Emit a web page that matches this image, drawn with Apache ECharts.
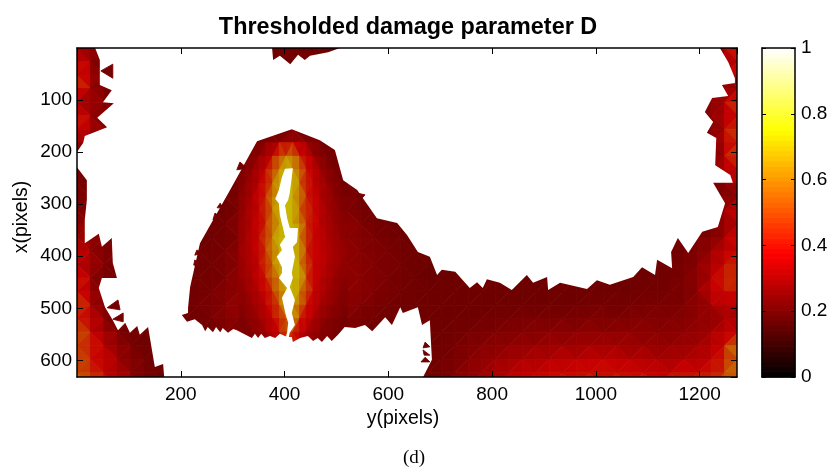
<!DOCTYPE html>
<html><head><meta charset="utf-8">
<style>html,body{margin:0;padding:0;background:#fff}#c{width:832px;height:471px}</style>
<script src="https://cdn.jsdelivr.net/npm/echarts@6/dist/echarts.min.js"></script>
</head><body><div id="c"></div>
<script>
// Sampled damage values (hundredths) as [startColumn, v, v, ...] runs; blank nodes are below threshold.
const nodeStep = 26;
const row00=[[0,36,26],[14,21,22,22,22,21],[48,26,45]];
const row01=[[0,36,28,22],[15,21],[17,21],[48,26,50]];
const row02=[[0,52,30,22],[48,25,40]];
const row03=[[0,46,32,24,22],[48,26,32]];
const row04=[[0,32,30,24],[47,26,34,50]];
const row05=[[0,44,30,25],[47,24,30,46]];
const row06=[[0,46,34,23],[16,22],[47,22,36,42]];
const row07=[[0,30,22],[14,22,26,32,26,22],[47,25,30,58]];
const row08=[[0,22],[13,22,25,38,48,38,27,22],[47,24,30,48]];
const row09=[[0,22,22],[13,22,29,52,72,55,36,24],[48,30,50]];
const row10=[[0,24,22],[12,22,25,36,60,72,50,36,28,22],[48,24,30]];
const row11=[[0,24,22],[11,21,23,27,40,62,72,52,38,30,25,21],[48,24,28]];
const row12=[[0,26,22],[11,21,24,30,38,62,68,50,38,30,25,22,21],[48,30,40]];
const row13=[[0,28,24],[10,21,22,25,30,36,48,62,58,38,30,27,24,22,21,20],[47,22,28,36]];
const row14=[[0,32,28,22],[10,21,22,24,28,34,50,65,52,36,30,27,25,23,22,21],[46,22,24,30,42]];
const row15=[[0,36,30,24],[9,21,22,23,25,30,38,60,65,42,33,29,27,25,24,23,22,21],[45,22,24,30,34,42]];
const row16=[[0,40,30,24],[9,21,22,23,27,32,42,68,60,40,33,29,27,26,24,23,22,21,20],[42,21,21,21,23,25,30,40,42]];
const row17=[[0,42,28,23,21],[9,21,22,23,27,33,46,68,62,42,35,30,27,26,24,23,22,21,20,20],[31,20],[33,20],[35,20],[39,20],[41,21,21,21,22,24,26,35,42,50]];
const row18=[[0,50,30,22],[8,21,22,23,25,28,35,48,66,68,44,35,30,27,26,24,23,22,21,21,21,21,21,21,21,21,21,21,21,21,21,21,21,21,21,22,22,22,23,26,36,42,38]];
const row19=[[0,48,34,24],[9,22,23,25,28,36,46,66,66,40,33,29,26,24,23,22,21,21,21,21,21,21,21,21,21,21,21,21,21,21,22,22,22,22,22,23,23,24,27,30,36,33]];
const row20=[[0,48,36,26,21],[8,21,22,23,25,29,35,46,62,60,38,31,27,25,23,22,21],[26,21,21,21,21,21,22,22,23,23,23,23,23,24,24,23,24,25,24,24,25,26,27,30,32]];
const row21=[[0,52,40,30,24,22,21],[9,21],[11,22],[13,26,36,62,60,36],[19,23],[21,21],[26,21,21,22,22,23,24,24,25,25,26,26,26,27,26,27,27,26,26,26,27,28,30,36,40]];
const row22=[[0,56,42,36,27,23,21],[26,21,21,22,24,25,26,27,28,28,29,30,29,31,30,31,29,29,28,28,29,30,34,40,60]];
const row23=[[0,50,40,38,30,25,22,21],[26,21,22,23,25,27,29,30,32,33,33,35,34,35,36,35,33,34,31,31,33,34,36,42,66]];
const row24=[[0,58,46,38,32,26,23,21],[26,21,22,24,27,29,31,34,36,37,38,40,38,42,38,42,38,40,36,38,40,38,42,46,55]];
const row25=[[0,60,50,42,34,27,23,21,20],[26,21,23,25,28,31,33,36,38,39,40,42,40,44,40,45,40,44,38,42,44,42,46,55,60]];
const nodeRows=[row00,row01,row02,row03,row04,row05,row06,row07,row08,row09,row10,row11,row12,row13,row14,row15,row16,row17,row18,row19,row20,row21,row22,row23,row24,row25];

// Finer samples across the crack: columns every 13 from y=312, rows every 26 from x=182.
const fineColStart=312, fineColStep=13, fineRowStart=182, fineRowStep=26;
const fine07=[22,22,22,23,25,28,32,35,35,32,28,25,22,22,22,22,22];
const fine08=[22,23,24,27,31,38,50,60,60,45,38,30,26,23,22,22,22];
const fine09=[23,25,28,32,39,50,65,72,72,58,43,36,30,26,23,22,22];
const fine10=[24,27,30,35,41,55,70,72,72,58,42,37,33,29,26,23,22];
const fine11=[25,28,32,38,45,60,70,72,72,62,45,37,34,30,27,24,22];
const fine12=[26,30,33,38,44,62,70,72,72,56,46,40,35,31,28,26,24];
const fine13=[27,30,34,38,44,56,68,72,72,64,46,40,36,32,29,27,25];
const fine14=[28,31,35,39,50,62,72,72,72,68,48,38,36,33,30,28,26];
const fine15=[28,32,34,38,48,60,72,72,72,66,46,38,37,34,31,29,27];
const fine16=[28,31,33,37,46,58,72,72,72,68,50,38,37,34,31,29,27];
const fine17=[27,30,33,37,44,56,64,70,72,72,52,38,35,32,29,27,25];
const fine18=[26,28,31,34,38,46,60,72,72,64,52,38,35,31,28,26,24];
const fine19=[25,27,29,32,36,42,52,68,72,58,42,36,32,29,27,25,23];
const fine20=[24,25,27,30,33,38,44,58,72,46,38,33,29,26,24,23,22];
const fine21=[23,24,25,27,30,34,38,52,50,35,33,28,26,24,23,22,22];
const fine22=[23,23,24,25,27,30,34,42,42,33,30,27,25,24,23,22,22];
const fineRows=[fine07,fine08,fine09,fine10,fine11,fine12,fine13,fine14,fine15,fine16,fine17,fine18,fine19,fine20,fine21,fine22];

// Detached elements: y1,x1,y2,x2,y3,x3 and their D value.
const detached=[
 [46,44,69,31,69,58,22],[58,499,79,484,83,503,22],[69,521,89,509,89,526,22],
 [314,219,328,231,308,234,22],[276,298,281,307,270,307,22],[266,317,276,325,262,330,22],
 [256,344,266,355,252,355,22],[231,388,241,394,227,398,22],[227,407,241,421,225,417,22],
 [541,279,555,282,541,298,22],
 [671,565,680,574,667,576,21],[667,580,680,590,669,590,21],[671,594,680,603,663,603,21]
];
// Crack outline (removed elements)
const crackY=[401,395,389,382,389,391,397,401,391,395,385,395,395,389,405,395,401,407,405,401,407,410,420,414,420,410,416,414,416,420,416,424,426,410,405,401,407,410,414,416];
const crackX=[232,248,273,290,298,321,346,363,378,388,401,421,432,442,461,480,507,528,546,561,561,547,532,509,484,459,442,432,421,401,382,373,346,346,327,302,292,279,248,231];
// Outline of the area thresholded away
const blankY=[35,44,44,67,50,71,39,58,15,12,0,0,19,19,15,15,42,48,67,69,77,48,42,54,69,79,93,102,116,121,137,150,166,168,667,684,680,665,657,628,623,607,594,569,555,536,516,503,491,482,472,464,455,445,430,416,414,405,391,382,372,362,355,349,343,337,308,301,291,281,276,268,262,252,247,241,227,212,202,214,214,218,237,295,347,414,468,497,513,540,578,617,636,657,680,694,703,729,757,771,782,790,815,838,867,879,906,908,931,983,1002,1027,1072,1089,1114,1118,1147,1145,1158,1178,1205,1235,1249,1226,1264,1259,1230,1232,1214,1226,1210,1224,1255,1243,1268,1268,1255,1239,507,484,449,439,426,411,391,378,376];
const blankX=[0,23,71,81,104,106,134,152,169,182,200,229,254,292,330,375,357,382,365,413,442,442,461,498,523,542,528,547,534,551,536,613,607,632,632,599,523,532,498,509,498,532,517,544,532,538,536,551,563,553,565,557,563,553,557,565,555,555,549,557,553,557,549,557,549,557,542,540,547,538,546,536,546,536,544,532,521,526,513,509,499,459,375,273,179,156,177,196,254,273,327,336,359,392,401,436,426,430,461,450,461,444,451,465,436,451,440,465,451,463,446,455,440,421,436,407,423,392,365,394,353,344,298,259,259,244,225,173,163,142,123,96,92,71,67,58,27,0,0,8,15,23,13,31,15,23,0];

const imageWidth=1272, imageHeight=632;
const colorLevels=64, meshShade=0.78;

function hotRGB(q,shade){
  const r=Math.min(1,q/0.375), g=Math.max(0,Math.min(1,(q-0.375)/0.375)), b=Math.max(0,(q-0.75)/0.25);
  return 'rgb('+[r,g,b].map(c=>Math.round(c*shade*255)).join(',')+')';
}
const grid=nodeRows.map(spans=>{const m={};spans.forEach(s=>s.slice(1).forEach((v,k)=>{m[s[0]+k]=v;}));return m;});
// Nodes just outside the kept area carry their neighbour's value so faces reach the outline.
for(let pass=0;pass<2;pass++){
  const snapshot=grid.map(m=>Object.assign({},m));
  for(let j=0;j<grid.length;j++)for(let i=0;i<50;i++){
    if(snapshot[j][i]!=null)continue;
    for(const [di,dj] of [[-1,0],[1,0],[0,-1],[0,1],[-1,-1],[1,-1],[-1,1],[1,1]]){
      const r=snapshot[j+dj];
      if(r&&r[i+di]!=null){grid[j][i]=r[i+di];break;}
    }
  }
}
function meshTriangles(rows,valueAt,yAt,xAt,nCols){
  const out=[];
  const add=(a,b,c)=>{
    const va=valueAt(a),vb=valueAt(b),vc=valueAt(c);
    if(va==null||vb==null||vc==null)return;
    out.push([yAt(a[0]),xAt(a[1]),yAt(b[0]),xAt(b[1]),yAt(c[0]),xAt(c[1]),(va+vb+vc)/300]);
  };
  for(let j=0;j<rows-1;j++)for(let i=0;i<nCols-1;i++){
    const a=[i,j],b=[i+1,j],c=[i,j+1],d=[i+1,j+1];
    if((i+j)%2===0){add(a,b,d);add(a,d,c);}else{add(a,b,c);add(b,d,c);}
  }
  return out;
}
const tris=meshTriangles(nodeRows.length,n=>grid[n[1]][n[0]],i=>i*nodeStep,j=>j*nodeStep,50);
const fineTris=meshTriangles(fineRows.length,n=>fineRows[n[1]][n[0]],i=>fineColStart+i*fineColStep,j=>fineRowStart+j*fineRowStep,fine07.length);
const looseTris=detached.map(t=>[t[0],t[1],t[2],t[3],t[4],t[5],t[6]/100]);
const barCells=[];for(let k=0;k<colorLevels;k++)barCells.push([k/colorLevels,(k+1)/colorLevels]);

const font='"Liberation Sans"';
const lineS={show:true,onZero:false,lineStyle:{color:'#000',width:1.5}};
const tickS={show:true,inside:true,length:6,lineStyle:{color:'#000',width:1}};
const labelS={color:'#000',fontFamily:font,fontSize:19};
const nameS={color:'#000',fontFamily:font,fontSize:19.5};
const triangleSeries=(data,z)=>({type:'custom',xAxisIndex:0,yAxisIndex:0,clip:true,silent:true,z:z,data:data,dimensions:['a','b','c','d','e','f','v'],encode:{x:[0,2,4],y:[1,3,5]},
  renderItem(p,api){
    const pts=[0,2,4].map(k=>api.coord([api.value(k),api.value(k+1)]));
    const col=hotRGB(api.value(6),meshShade);
    return {type:'polygon',shape:{points:pts},style:{fill:col,stroke:col,lineWidth:0.9}};
  }});
const outlineSeries=(ys,xs,z)=>({type:'custom',xAxisIndex:0,yAxisIndex:0,clip:true,silent:true,z:z,data:ys.map((y,k)=>[y,xs[k]]),encode:{x:0,y:1},
  renderItem(p,api){
    if(p.dataIndex!==0)return null;
    return {type:'polygon',shape:{points:ys.map((y,k)=>api.coord([y,xs[k]]))},style:{fill:'#fff'}};
  }});
const chart=echarts.init(document.getElementById('c'),null,{renderer:'canvas'});
chart.setOption({
  animation:false,backgroundColor:'#fff',
  title:[
    {text:'Thresholded damage parameter D',left:403,top:11,textAlign:'center',textStyle:{color:'#000',fontFamily:font,fontSize:23.4,fontWeight:'bold'}},
    {text:'(d)',left:409,top:444,textAlign:'center',textStyle:{color:'#000',fontFamily:'"Liberation Serif"',fontSize:19,fontWeight:'normal'}}
  ],
  grid:[{left:77,top:48,width:660,height:329},{left:762,top:48,width:33,height:329}],
  xAxis:[
    {gridIndex:0,type:'value',min:0,max:imageWidth,interval:200,position:'bottom',z:6,axisLine:lineS,axisTick:tickS,splitLine:{show:false},
     axisLabel:Object.assign({},labelS,{margin:8,showMinLabel:false,showMaxLabel:false,formatter:v=>String(v)}),name:'y(pixels)',nameLocation:'middle',nameGap:31,nameTextStyle:Object.assign({},nameS,{padding:[0,8,0,0]})},
    {gridIndex:0,type:'value',min:0,max:imageWidth,interval:200,position:'top',z:6,axisLine:lineS,axisTick:tickS,splitLine:{show:false},axisLabel:{show:false}},
    {gridIndex:1,type:'value',min:0,max:1,position:'bottom',z:6,axisLine:lineS,axisTick:{show:false},splitLine:{show:false},axisLabel:{show:false}},
    {gridIndex:1,type:'value',min:0,max:1,position:'top',z:6,axisLine:lineS,axisTick:{show:false},splitLine:{show:false},axisLabel:{show:false}}
  ],
  yAxis:[
    {gridIndex:0,type:'value',inverse:true,min:0,max:imageHeight,interval:100,position:'left',z:6,axisLine:lineS,axisTick:tickS,splitLine:{show:false},
     axisLabel:Object.assign({},labelS,{margin:5,padding:[3,0,0,0],showMinLabel:false,showMaxLabel:false}),name:'x(pixels)',nameLocation:'middle',nameGap:45,nameMoveOverlap:false,nameTextStyle:Object.assign({},nameS,{padding:[0,9,0,0]})},
    {gridIndex:0,type:'value',inverse:true,min:0,max:imageHeight,interval:100,position:'right',z:6,axisLine:lineS,axisTick:tickS,splitLine:{show:false},axisLabel:{show:false}},
    {gridIndex:1,type:'value',min:0,max:1,interval:0.2,position:'right',z:6,axisLine:lineS,axisTick:Object.assign({},tickS,{length:4}),splitLine:{show:false},axisLabel:Object.assign({},labelS,{margin:6,padding:[2,0,0,0]})},
    {gridIndex:1,type:'value',min:0,max:1,interval:0.2,position:'left',z:6,axisLine:lineS,axisTick:Object.assign({},tickS,{length:4}),splitLine:{show:false},axisLabel:{show:false}}
  ],
  series:[
    triangleSeries(tris,2),
    triangleSeries(fineTris,3),
    outlineSeries(blankY,blankX,4),
    outlineSeries(crackY,crackX,4),
    triangleSeries(looseTris,5),
    {type:'custom',xAxisIndex:2,yAxisIndex:2,silent:true,data:barCells,encode:{y:[0,1]},
     renderItem(p,api){
       const lo=api.coord([0,api.value(0)]),hi=api.coord([1,api.value(1)]);
       const col=hotRGB((api.value(0)+api.value(1))/2,1);
       return {type:'rect',shape:{x:lo[0],y:hi[1],width:hi[0]-lo[0],height:lo[1]-hi[1]},style:{fill:col,stroke:col,lineWidth:1}};
     }}
  ]
});
</script></body></html>
